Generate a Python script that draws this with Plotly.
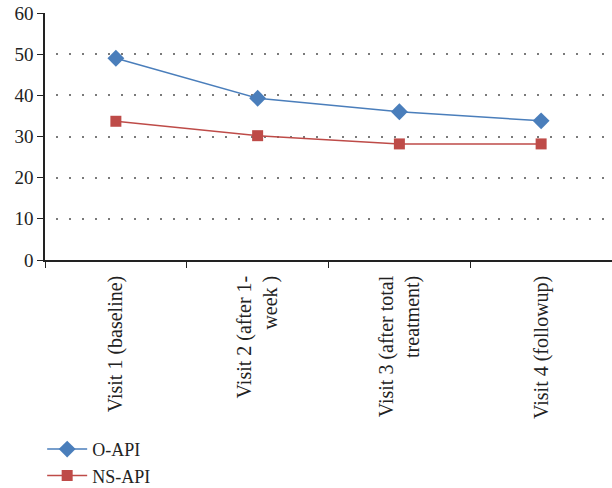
import plotly.graph_objects as go

visits = [
    "Visit 1 (baseline)",
    "Visit 2 (after 1-<br>week )",
    "Visit 3 (after total<br>treatment)",
    "Visit 4 (followup)",
]
o_api = [49.0, 39.3, 36.0, 33.8]
ns_api = [33.7, 30.2, 28.2, 28.2]

FONT = "Liberation Serif"
TEXT = "#222222"

fig = go.Figure()
fig.add_trace(go.Scatter(
    x=visits, y=o_api, name="O-API", mode="lines+markers",
    line=dict(color="#4A7EBB", width=1.5),
    marker=dict(symbol="diamond", size=13, color="#4A7EBB"),
))
fig.add_trace(go.Scatter(
    x=visits, y=ns_api, name="NS-API", mode="lines+markers",
    line=dict(color="#BE4B48", width=1.5),
    marker=dict(symbol="square", size=11, color="#BE4B48"),
))

fig.update_layout(
    width=612, height=488,
    margin=dict(l=45, r=0, t=13, b=228, autoexpand=False),
    paper_bgcolor="white", plot_bgcolor="white",
    font=dict(family=FONT, size=20, color=TEXT),
    showlegend=True,
    legend=dict(
        orientation="v", x=-0.005, y=-0.692, xanchor="left", yanchor="top",
        font=dict(family=FONT, size=18, color=TEXT),
        tracegroupgap=0, itemwidth=40,
    ),
    xaxis=dict(
        type="category", range=[-0.5, 3.5], automargin=False,
        tickangle=-90, tickson="boundaries", ticks="outside", ticklen=6,
        ticklabelstandoff=6,
        tickcolor=TEXT, showline=True, linecolor=TEXT, linewidth=1.5,
        showgrid=False, tickfont=dict(family=FONT, size=20, color=TEXT),
    ),
    yaxis=dict(
        range=[0, 60], dtick=10, ticks="outside", ticklen=6, automargin=False,
        tickcolor=TEXT, showline=True, linecolor=TEXT, linewidth=1.5,
        showgrid=True, gridcolor="#7a7a7a", griddash="0px,11px,2px,0px",
        gridwidth=2,
        zeroline=False, tickfont=dict(family=FONT, size=19, color=TEXT),
    ),
)

fig.write_html("out.html")
